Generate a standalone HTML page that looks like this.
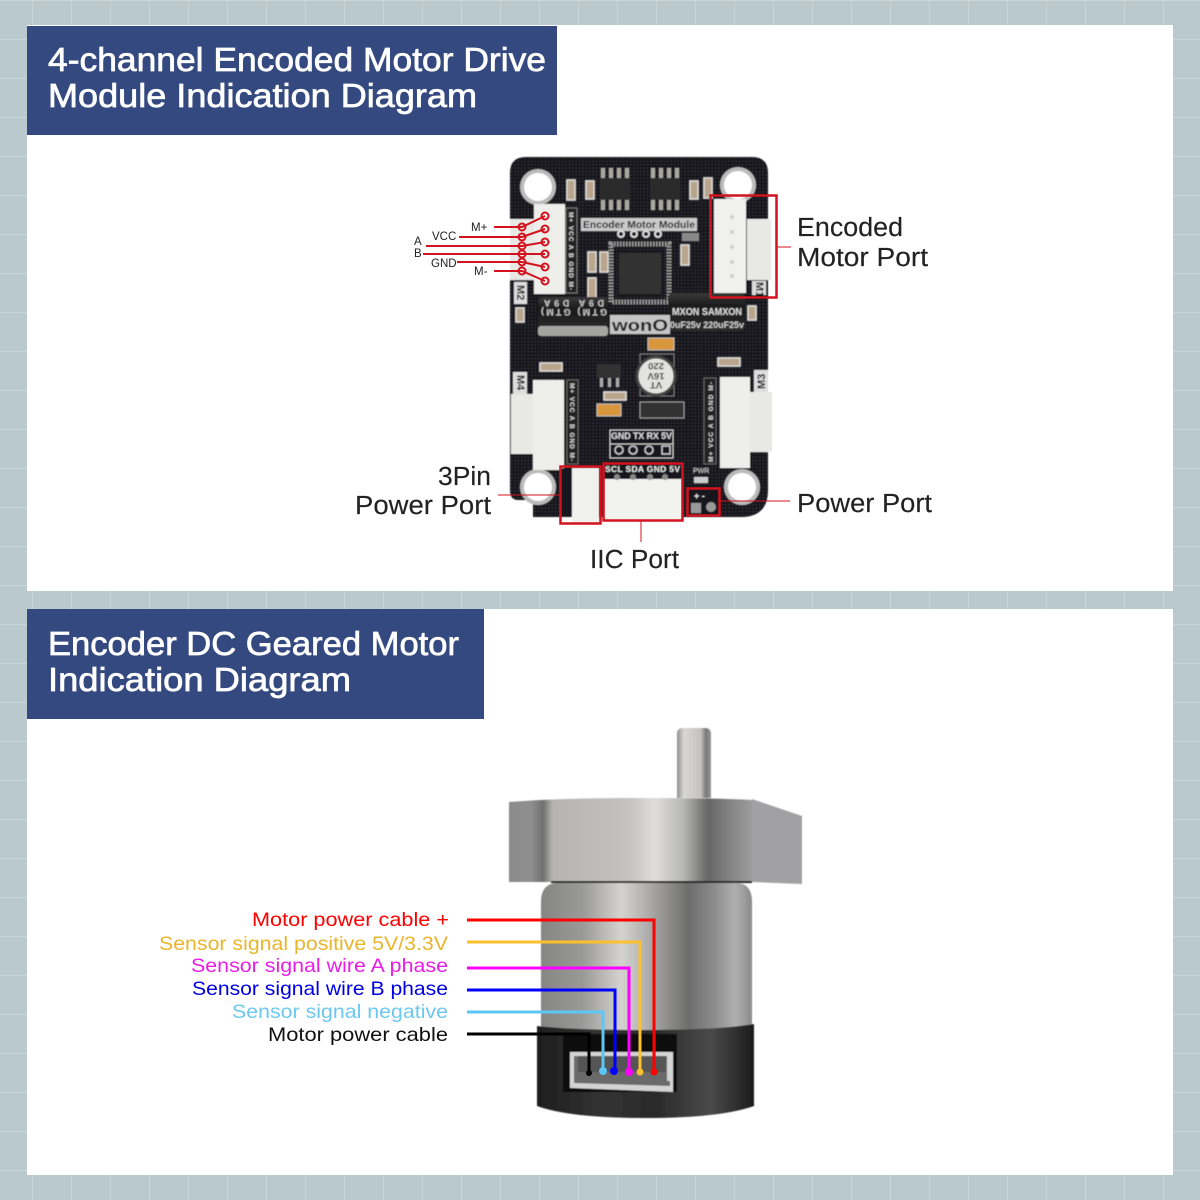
<!DOCTYPE html>
<html><head><meta charset="utf-8"><style>
html,body{margin:0;padding:0;background:#b9c9ce}
svg{display:block}
text{font-family:"Liberation Sans",sans-serif}
.t{fill:#fff;font-size:33px;stroke:#fff;stroke-width:.7}
.l{fill:#222;font-size:25.5px;stroke:#222;stroke-width:.15}
.s{font-size:19.5px}
.b{fill:#ddd;font-size:6.5px;font-weight:bold}
</style></head><body>
<svg width="1200" height="1200" viewBox="0 0 1200 1200" xmlns="http://www.w3.org/2000/svg">
<defs>
<pattern id="g" width="39" height="39" patternUnits="userSpaceOnUse" x="-7" y="0">
<path d="M0 0V39M0 0H39" stroke="#cedadc" stroke-width="1.5" fill="none"/>
</pattern>
<pattern id="dots" width="3.4" height="3.4" patternUnits="userSpaceOnUse">
<circle cx="1.5" cy="1.5" r=".65" fill="#45454a"/>
</pattern>
<filter id="soft" x="-5%" y="-5%" width="110%" height="110%"><feGaussianBlur stdDeviation=".45"/></filter>
<linearGradient id="blk" x1="0" x2="1" y1="0" y2="0">
<stop offset="0" stop-color="#8b8b8b"/><stop offset=".09" stop-color="#8f8f8f"/><stop offset=".14" stop-color="#6f6f6f"/><stop offset=".18" stop-color="#b5b4b1"/><stop offset=".5" stop-color="#c4c3c0"/><stop offset=".6" stop-color="#dfdedb"/><stop offset=".72" stop-color="#b5b5b3"/><stop offset=".82" stop-color="#666"/><stop offset=".93" stop-color="#8a8a8a"/><stop offset="1" stop-color="#9c9c9c"/>
</linearGradient>
<linearGradient id="cyl" x1="0" x2="1" y1="0" y2="0">
<stop offset="0" stop-color="#858585"/><stop offset=".2" stop-color="#9a9a98"/><stop offset=".38" stop-color="#d4d3d0"/><stop offset=".5" stop-color="#b0afad"/><stop offset=".7" stop-color="#6d6d6d"/><stop offset=".82" stop-color="#8c8c8c"/><stop offset=".92" stop-color="#b0b0b0"/><stop offset="1" stop-color="#8b8b8b"/>
</linearGradient>
<linearGradient id="enc" x1="0" x2="1" y1="0" y2="0">
<stop offset="0" stop-color="#1e1e1e"/><stop offset=".3" stop-color="#333"/><stop offset=".55" stop-color="#2a2a2a"/><stop offset=".8" stop-color="#4a4a4a"/><stop offset="1" stop-color="#1c1c1c"/>
</linearGradient>
<linearGradient id="sh" x1="0" x2="1" y1="0" y2="0">
<stop offset="0" stop-color="#8d8d8d"/><stop offset=".2" stop-color="#d8d7d4"/><stop offset=".7" stop-color="#c4c3c0"/><stop offset=".85" stop-color="#777"/><stop offset="1" stop-color="#999"/>
</linearGradient>
<linearGradient id="capg" x1="0" x2="0" y1="0" y2="1">
<stop offset="0" stop-color="#3a3a3a"/><stop offset=".35" stop-color="#1a1a1a"/><stop offset="1" stop-color="#2c2c2c"/>
</linearGradient>
</defs>
<rect width="1200" height="1200" fill="#b9c9ce"/>
<rect width="1200" height="1200" fill="url(#g)"/>
<rect x="27" y="25" width="1146" height="566" fill="#fff"/>
<rect x="27" y="609" width="1146" height="566" fill="#fff"/>
<rect x="27" y="26" width="530" height="109" fill="#34497f"/>
<rect x="27" y="609" width="457" height="110" fill="#34497f"/>
<text class="t" x="48" y="71" textLength="498" lengthAdjust="spacingAndGlyphs">4-channel Encoded Motor Drive</text>
<text class="t" x="48" y="107" textLength="429" lengthAdjust="spacingAndGlyphs">Module Indication Diagram</text>
<text class="t" x="48" y="655" textLength="411" lengthAdjust="spacingAndGlyphs">Encoder DC Geared Motor</text>
<text class="t" x="48" y="691" textLength="303" lengthAdjust="spacingAndGlyphs">Indication Diagram</text>

<g filter="url(#soft)">
<!-- board -->
<path d="M526 157H752Q768 157 768 173V490Q768 517 741 517H533V500H518Q510 500 510 490V173Q510 157 526 157Z" fill="#15151a"/>
<path d="M526 157H752Q768 157 768 173V490Q768 517 741 517H533V500H518Q510 500 510 490V173Q510 157 526 157Z" fill="url(#dots)"/>
<!-- holes -->
<g fill="#fff" stroke="#bbb" stroke-width="4">
<circle cx="538" cy="187" r="16"/><circle cx="738" cy="185" r="16"/><circle cx="538" cy="487" r="16"/><circle cx="742" cy="487" r="16"/>
</g>
<!-- top chips -->
<rect x="600" y="178" width="30" height="22" fill="#2a2a2a"/><rect x="650" y="178" width="30" height="22" fill="#2a2a2a"/>
<path d="M601 168h4v10h-4zM609 168h4v10h-4zM617 168h4v10h-4zM625 168h4v10h-4zM651 168h4v10h-4zM659 168h4v10h-4zM667 168h4v10h-4zM675 168h4v10h-4zM601 200h4v10h-4zM609 200h4v10h-4zM617 200h4v10h-4zM625 200h4v10h-4zM651 200h4v10h-4zM659 200h4v10h-4zM667 200h4v10h-4zM675 200h4v10h-4z" fill="#a9a9a0"/>
<g fill="#b9a58b" stroke="#ddd" stroke-width="1.5">
<rect x="567" y="180" width="8" height="20"/><rect x="586" y="181" width="8" height="18"/><rect x="690" y="181" width="8" height="18"/><rect x="704" y="178" width="8" height="20"/>
<rect x="588" y="252" width="8" height="20"/><rect x="600" y="252" width="8" height="20"/><rect x="588" y="278" width="8" height="20"/><rect x="681" y="245" width="8" height="20"/><rect x="516" y="308" width="8" height="14"/><rect x="748" y="306" width="8" height="14"/>
<rect x="540" y="363" width="22" height="8"/><rect x="718" y="358" width="22" height="8"/><rect x="604" y="392" width="22" height="8"/>
</g>
<rect x="597" y="404" width="24" height="12" fill="#d9963a" stroke="#bbb"/>
<rect x="648" y="338" width="26" height="12" fill="#d9963a" stroke="#bbb"/>
<!-- labels strip -->
<rect x="581" y="218" width="116" height="13" fill="#c9c9c9"/>
<text x="583" y="228" font-size="10.5" font-weight="bold" fill="#222" textLength="112" lengthAdjust="spacingAndGlyphs">Encoder Motor Module</text>
<g fill="#15151a" stroke="#ddd" stroke-width="2"><circle cx="621" cy="234" r="3"/><circle cx="634" cy="234" r="3"/><circle cx="646" cy="234" r="3"/><circle cx="658" cy="234" r="3"/></g>
<rect x="682" y="233" width="17" height="8" fill="#888"/>
<!-- MCU -->
<rect x="611" y="244" width="58" height="58" fill="none" stroke="#999" stroke-width="5" stroke-dasharray="1.5 1.5"/>
<rect x="619" y="253" width="42" height="41" fill="#333"/>
<!-- top-left connector M2 -->
<rect x="510" y="219" width="24" height="61" fill="#e8e8e4"/>
<rect x="534" y="204" width="31" height="90" fill="#eeeeea"/>
<rect x="566" y="208" width="11" height="85" fill="#222" stroke="#777"/>
<text class="b" transform="translate(569,212) rotate(90)" textLength="78" lengthAdjust="spacing">M+ VCC A B GND M-</text>
<rect x="514" y="282" width="13" height="22" fill="#ddd"/>
<text transform="translate(517,285) rotate(90)" font-size="11" font-weight="bold" fill="#111">M2</text>
<!-- M1 -->
<rect x="714" y="199" width="32" height="94" fill="#f0f0ec"/>
<rect x="747" y="219" width="24" height="61" fill="#e8e8e4"/>
<rect x="752" y="281" width="14" height="14" fill="#ddd"/>
<text transform="translate(756,282) rotate(90)" font-size="11" font-weight="bold" fill="#111">M1</text>
<g fill="#cfcfca"><circle cx="732" cy="217" r="2"/><circle cx="732" cy="232" r="2"/><circle cx="732" cy="247" r="2"/><circle cx="732" cy="262" r="2"/><circle cx="732" cy="276" r="2"/></g>
<!-- caps -->
<rect x="538" y="297" width="70" height="34" rx="5" fill="url(#capg)"/>
<rect x="538" y="326" width="70" height="10" rx="3" fill="#a5a5a0"/>
<g transform="rotate(180 574 308)" font-size="9" font-weight="bold" fill="#c4c4c4">
<text x="541" y="307" textLength="66">GTM) GTM)</text>
<text x="544" y="316" textLength="60">D9A D9A</text>
</g>
<rect x="668" y="293" width="77" height="38" rx="5" fill="url(#capg)"/>
<text x="672" y="315" font-size="10" font-weight="bold" fill="#ddd" textLength="70" lengthAdjust="spacingAndGlyphs">MXON SAMXON</text>
<text x="670" y="328" font-size="9" font-weight="bold" fill="#ccc" textLength="74" lengthAdjust="spacingAndGlyphs">0uF25v 220uF25v</text>
<rect x="610" y="315" width="60" height="19" fill="#c5c5c5"/>
<text x="612" y="331" font-size="17" font-weight="bold" fill="#222" textLength="56" lengthAdjust="spacingAndGlyphs">wonO</text>
<!-- center power -->
<rect x="640" y="354" width="34" height="42" fill="none" stroke="#777"/>
<circle cx="656" cy="376" r="19" fill="#e3e3df" stroke="#444" stroke-width="3"/>
<text transform="rotate(180 656 376)" x="656" y="370" text-anchor="middle" font-size="9.5" font-weight="bold" fill="#333">VT</text>
<text transform="rotate(180 656 376)" x="656" y="379" text-anchor="middle" font-size="9.5" font-weight="bold" fill="#333">16V</text>
<text transform="rotate(180 656 376)" x="656" y="389" text-anchor="middle" font-size="9.5" font-weight="bold" fill="#333">220</text>
<rect x="597" y="364" width="24" height="14" fill="#333"/>
<path d="M600 378h3v9h-3zM608 378h3v9h-3zM616 378h3v9h-3z" fill="#aaa"/>
<rect x="640" y="402" width="44" height="16" fill="#333" stroke="#999"/>
<!-- serial -->
<rect x="610" y="430" width="63" height="14" fill="#15151a" stroke="#ccc"/>
<rect x="610" y="444" width="63" height="14" fill="#15151a" stroke="#ccc"/>
<text x="611" y="439" font-size="9" font-weight="bold" fill="#ddd" textLength="61" lengthAdjust="spacing">GND TX RX 5V</text>
<g fill="none" stroke="#ccc" stroke-width="1.5"><circle cx="619" cy="450" r="4"/><circle cx="633" cy="450" r="4"/><circle cx="649" cy="450" r="4"/><rect x="662" y="446" width="8" height="8"/></g>
<!-- M4 / M3 -->
<rect x="513" y="372" width="14" height="22" fill="#ddd"/>
<text transform="translate(517,375) rotate(90)" font-size="11" font-weight="bold" fill="#111">M4</text>
<rect x="511" y="394" width="22" height="60" fill="#e8e8e4"/>
<rect x="533" y="380" width="31" height="90" fill="#eeeeea"/>
<rect x="567" y="380" width="11" height="84" fill="#222" stroke="#666"/>
<text class="b" transform="translate(570,383) rotate(90)" textLength="78">M+ VCC A B GND M-</text>
<rect x="754" y="370" width="14" height="22" fill="#ddd"/>
<text transform="translate(765,389) rotate(-90)" font-size="11" font-weight="bold" fill="#111">M3</text>
<rect x="750" y="392" width="22" height="60" fill="#e8e8e4"/>
<rect x="720" y="377" width="30" height="91" fill="#eeeeea"/>
<rect x="704" y="378" width="12" height="86" fill="#222" stroke="#666"/>
<text class="b" transform="translate(713,462) rotate(-90)" textLength="80">M+ VCC A B GND M-</text>
<!-- bottom ports -->
<rect x="604" y="464" width="78" height="56" fill="#f2f2ee"/>
<rect x="604" y="464" width="78" height="15" fill="#15151a"/>
<text x="605" y="472" font-size="8.5" font-weight="bold" fill="#eee" textLength="75" lengthAdjust="spacing">SCL SDA GND 5V</text>
<g fill="#888"><circle cx="617" cy="477" r="3"/><circle cx="633" cy="477" r="3"/><circle cx="650" cy="477" r="3"/><circle cx="665" cy="477" r="3"/></g>
<rect x="561" y="468" width="10" height="48" fill="#15151a"/>
<rect x="572" y="468" width="27" height="55" fill="#f0f0ec"/>
<rect x="691" y="490" width="27" height="25" fill="#15151a"/>
<rect x="691" y="503" width="10" height="10" fill="#999"/><circle cx="711" cy="507" r="5" fill="#999"/>
<text x="694" y="499" font-size="9" fill="#eee" font-weight="bold">+ -</text>
<rect x="694" y="477" width="14" height="6" fill="#ccc"/>
<text x="693" y="473" font-size="7" fill="#ddd">PWR</text>
</g>
<!-- red boxes -->
<g fill="none" stroke="#d3121f" stroke-width="2.5">
<rect x="710.5" y="195.5" width="66" height="102"/>
<rect x="560.5" y="466.5" width="40" height="57"/>
<rect x="603.5" y="463.5" width="79" height="57"/>
<rect x="687.5" y="488.5" width="32" height="27"/>
</g>
<g stroke="#d3121f" stroke-width="1">
<path d="M777 247H791M498 495H560M720 501H790M641 521V542" fill="none"/>
</g>
<!-- wiring M2 -->
<g stroke="#d3121f" stroke-width="2" fill="none">
<path d="M494 227H522L545 216M459 237H522L545 229M426 246H522L545 242M423 254H522L545 254M457 262H522L545 267M494 271H522L545 281"/>
</g>
<g stroke="#d3121f" stroke-width="2" fill="none">
<circle cx="522" cy="227" r="3.5"/><circle cx="522" cy="237" r="3.5"/><circle cx="522" cy="246" r="3.5"/><circle cx="522" cy="254" r="3.5"/><circle cx="522" cy="262" r="3.5"/><circle cx="522" cy="271" r="3.5"/>
<circle cx="545" cy="216" r="3.5"/><circle cx="545" cy="229" r="3.5"/><circle cx="545" cy="242" r="3.5"/><circle cx="545" cy="254" r="3.5"/><circle cx="545" cy="267" r="3.5"/><circle cx="545" cy="281" r="3.5"/>
</g>
<g font-size="11.5" fill="#222">
<text x="471" y="231">M+</text><text x="432" y="240">VCC</text><text x="414" y="245">A</text><text x="414" y="257">B</text><text x="431" y="267">GND</text><text x="474" y="275">M-</text>
</g>
<text class="l" x="797" y="236" textLength="106" lengthAdjust="spacingAndGlyphs">Encoded</text>
<text class="l" x="797" y="266" textLength="131" lengthAdjust="spacingAndGlyphs">Motor Port</text>
<text class="l" x="438" y="485" textLength="53" lengthAdjust="spacingAndGlyphs">3Pin</text>
<text class="l" x="355" y="514" textLength="136" lengthAdjust="spacingAndGlyphs">Power Port</text>
<text class="l" x="797" y="512" textLength="135" lengthAdjust="spacingAndGlyphs">Power Port</text>
<text class="l" x="590" y="568" textLength="89" lengthAdjust="spacingAndGlyphs">IIC Port</text>

<!-- motor -->
<g filter="url(#soft)">
<path d="M677 734Q677 728 683 728H705Q711 728 711 734V798H677Z" fill="url(#sh)"/>
<path d="M752 799L802 816V884L752 882Z" fill="#a1a1a4"/>
<path d="M509 802Q560 798 630 798Q720 798 752 800V882H509Z" fill="url(#blk)"/>
<rect x="551" y="881" width="201" height="2" fill="#222"/>
<path d="M541 900Q542 884 556 883H738Q751 884 752 900V1030H541Z" fill="url(#cyl)"/>
<path d="M537 1026Q570 1030 645 1030Q720 1030 754 1024V1106Q720 1118 645 1118Q570 1118 537 1106Z" fill="url(#enc)"/>
<rect x="563" y="1034" width="114" height="58" fill="#111"/>
<path d="M570 1052H673V1092L570 1088Z" fill="#d4d4d4"/>
<path d="M574 1056H667V1081H670V1086L574 1083Z" fill="#6a6a6a"/>
<rect x="578" y="1056" width="88" height="16" fill="#555"/>
</g>
<g fill="none" stroke-width="3" stroke-linejoin="miter">
<path d="M467 920H654V1072" stroke="#f00"/>
<path d="M467 942H640V1072" stroke="#fbc02d"/>
<path d="M467 968H629V1072" stroke="#f0f"/>
<path d="M467 990H615V1071" stroke="#00f"/>
<path d="M467 1012H603V1071" stroke="#5cc6f5"/>
<path d="M467 1034H589V1073" stroke="#000"/>
</g>
<circle cx="654" cy="1072" r="3.5" fill="#f00"/>
<circle cx="640" cy="1072" r="3.5" fill="#fbc02d"/>
<circle cx="629" cy="1072" r="4" fill="#f0f"/>
<circle cx="614" cy="1071" r="4" fill="#00f"/>
<circle cx="603" cy="1071" r="4" fill="#5cc6f5"/>
<circle cx="589" cy="1073" r="3" fill="#000"/>
<text class="s" x="252" y="926" fill="#f00" textLength="197" lengthAdjust="spacingAndGlyphs">Motor power cable +</text>
<text class="s" x="159" y="950" fill="#e9b52a" textLength="289" lengthAdjust="spacingAndGlyphs">Sensor signal positive 5V/3.3V</text>
<text class="s" x="191" y="972" fill="#e81ee8" textLength="257" lengthAdjust="spacingAndGlyphs">Sensor signal wire A phase</text>
<text class="s" x="192" y="995" fill="#0000e0" textLength="256" lengthAdjust="spacingAndGlyphs">Sensor signal wire B phase</text>
<text class="s" x="232" y="1018" fill="#6cc8f0" textLength="216" lengthAdjust="spacingAndGlyphs">Sensor signal negative</text>
<text class="s" x="268" y="1041" fill="#111" textLength="180" lengthAdjust="spacingAndGlyphs">Motor power cable</text>
</svg>
</body></html>
